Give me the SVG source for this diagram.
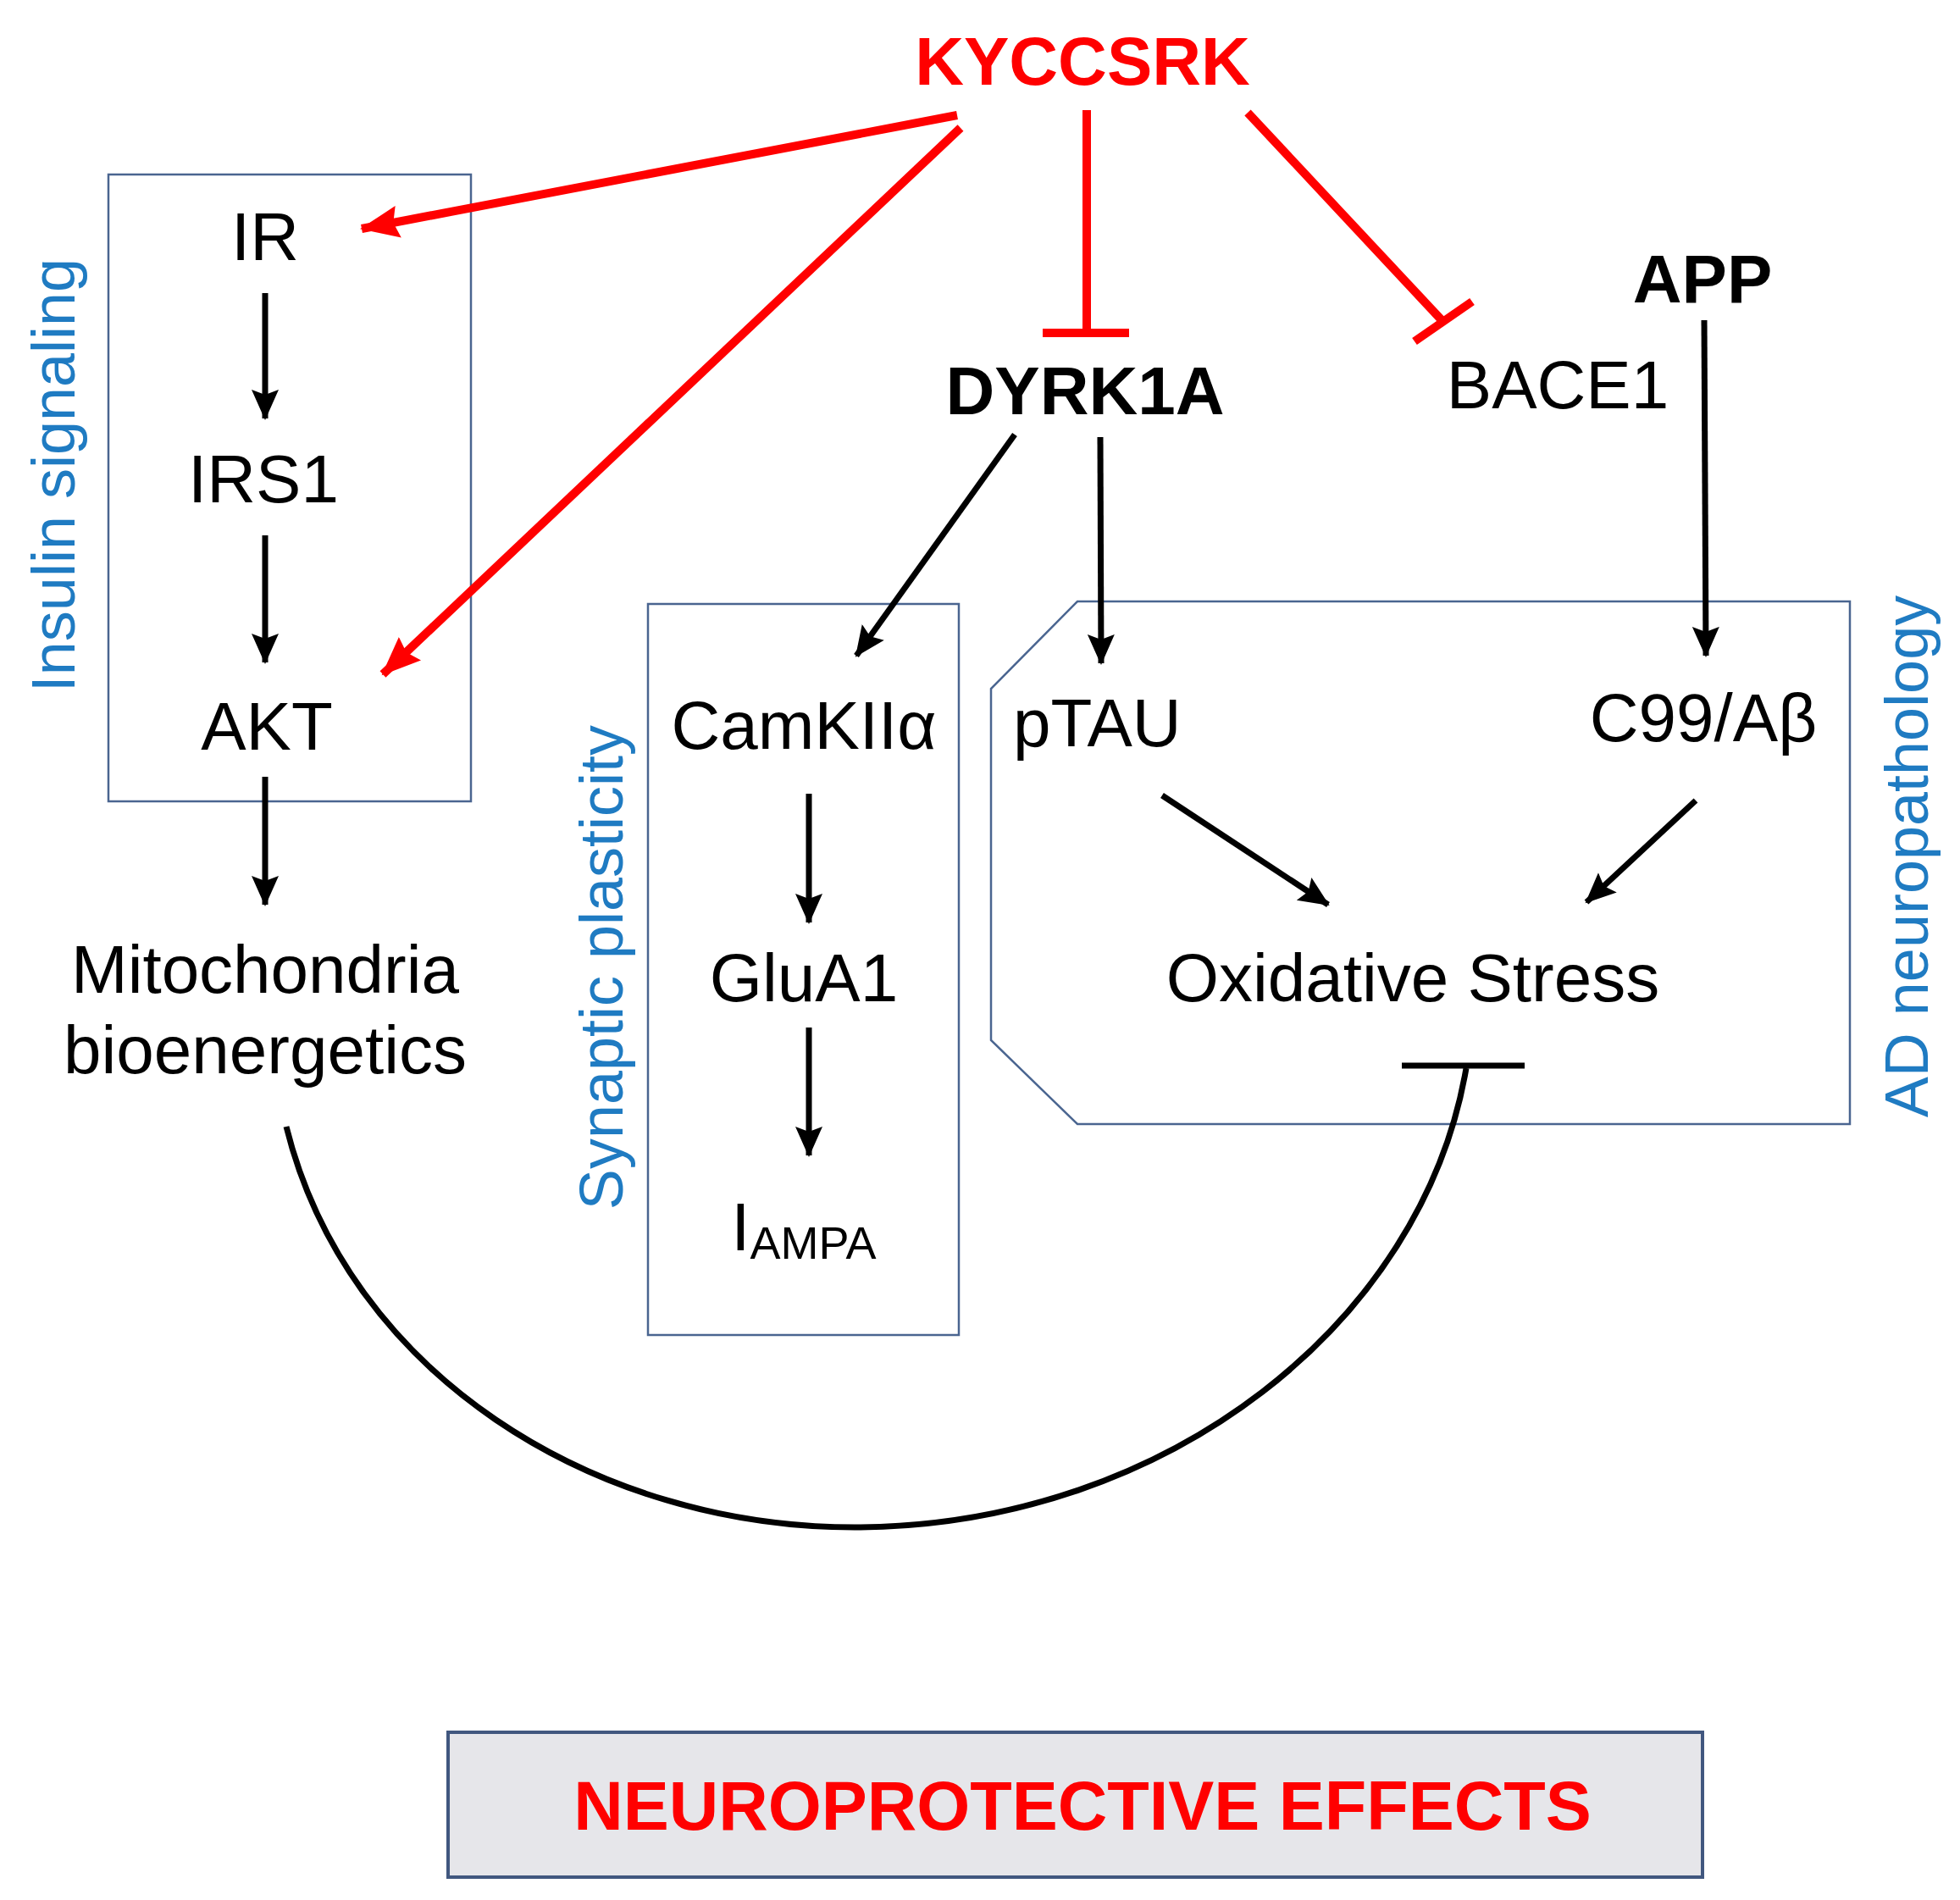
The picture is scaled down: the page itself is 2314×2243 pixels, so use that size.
<svg xmlns="http://www.w3.org/2000/svg" width="2314" height="2243" viewBox="0 0 2314 2243">
<style>
.t{font-family:"Liberation Sans",Arial,sans-serif;font-size:80px;fill:#000;text-anchor:middle}
.b{font-weight:bold}
.r{fill:#ff0000}
.lab{font-family:"Liberation Sans",Arial,sans-serif;font-size:72px;fill:#1f7bc2;text-anchor:middle}
.box{fill:none;stroke:#4a6590;stroke-width:2.5}
.k{stroke:#000;stroke-width:7;fill:none}
.rd{stroke:#ff0000;stroke-width:10;fill:none}
</style>
<defs>
<marker id="ak" markerUnits="userSpaceOnUse" markerWidth="40" markerHeight="40" refX="34" refY="20" orient="auto"><path d="M0,4 L36,20 L0,36 L6,20 Z" fill="#000"/></marker>
<marker id="ar" markerUnits="userSpaceOnUse" markerWidth="50" markerHeight="44" refX="44" refY="22" orient="auto"><path d="M0,3 L46,22 L0,41 L6,22 Z" fill="#ff0000"/></marker>
</defs>
<rect width="2314" height="2243" fill="#fff"/>
<g id="insulin-box"><rect class="box" x="128" y="206" width="428" height="740"/><text class="lab" transform="translate(88,561) rotate(-90)">Insulin signaling</text></g>
<g id="synaptic-box"><rect class="box" x="765" y="713" width="367" height="863"/><text class="lab" transform="translate(735,1142) rotate(-90)">Synaptic plasticity</text></g>
<g id="ad-box"><polygon class="box" points="1272,710 2184,710 2184,1327 1272,1327 1170,1228 1170,813"/><text class="lab" transform="translate(2276,1011) rotate(-90)">AD neuropathology</text></g>
<g id="kyccsrk"><text class="t b r" x="1278" y="100" style="font-size:80px">KYCCSRK</text></g>
<g id="ir"><text class="t" x="313" y="307">IR</text></g>
<g id="irs1"><text class="t" x="311" y="593">IRS1</text></g>
<g id="akt"><text class="t" x="315" y="885">AKT</text></g>
<g id="mito"><text class="t" x="313" y="1172">Mitochondria</text><text class="t" x="313" y="1267">bioenergetics</text></g>
<g id="dyrk1a"><text class="t b" x="1281" y="489">DYRK1A</text></g>
<g id="bace1"><text class="t" x="1839" y="482">BACE1</text></g>
<g id="app"><text class="t b" x="2010" y="357">APP</text></g>
<g id="camk"><text class="t" x="949" y="884">CamKIIα</text></g>
<g id="glua1"><text class="t" x="949" y="1182">GluA1</text></g>
<g id="iampa"><text class="t" x="949" y="1476">I<tspan font-size="54px" dy="10">AMPA</tspan></text></g>
<g id="ptau"><text class="t" x="1196" y="881" style="text-anchor:start">pTAU</text></g>
<g id="c99"><text class="t" x="2011" y="875">C99/Aβ</text></g>
<g id="ox"><text class="t" x="1668" y="1182">Oxidative Stress</text></g>
<g id="neuro"><rect x="529" y="2045" width="1481" height="171" fill="#e6e6ea" stroke="#41577f" stroke-width="4"/><text class="t b r" x="1278" y="2160" style="font-size:81px">NEUROPROTECTIVE EFFECTS</text></g>
<g id="connectors">
<line class="rd" x1="1130" y1="136" x2="427" y2="270" marker-end="url(#ar)"/>
<line class="rd" x1="1134" y1="151" x2="452" y2="796" marker-end="url(#ar)"/>
<line class="rd" x1="1283" y1="130" x2="1283" y2="393"/>
<line class="rd" x1="1231" y1="393" x2="1333" y2="393"/>
<line class="rd" x1="1473" y1="133" x2="1704" y2="380"/>
<line class="rd" x1="1670" y1="403" x2="1738" y2="356"/>
<line class="k" x1="313" y1="346" x2="313" y2="494" marker-end="url(#ak)"/>
<line class="k" x1="313" y1="632" x2="313" y2="782" marker-end="url(#ak)"/>
<line class="k" x1="313" y1="917" x2="313" y2="1068" marker-end="url(#ak)"/>
<line class="k" x1="1198" y1="513" x2="1011" y2="774" marker-end="url(#ak)"/>
<line class="k" x1="1299" y1="516" x2="1300" y2="783" marker-end="url(#ak)"/>
<line class="k" x1="2012" y1="378" x2="2014" y2="774" marker-end="url(#ak)"/>
<line class="k" x1="955" y1="937" x2="955" y2="1089" marker-end="url(#ak)"/>
<line class="k" x1="955" y1="1213" x2="955" y2="1364" marker-end="url(#ak)"/>
<line class="k" x1="1372" y1="939" x2="1568" y2="1068" marker-end="url(#ak)"/>
<line class="k" x1="2002" y1="945" x2="1873" y2="1065" marker-end="url(#ak)"/>
<path class="k" d="M338,1330 C410,1620 700,1805 1014,1803 C1380,1800 1680,1560 1731,1261"/>
<line class="k" x1="1655" y1="1258" x2="1800" y2="1258"/>
</g>
</svg>
